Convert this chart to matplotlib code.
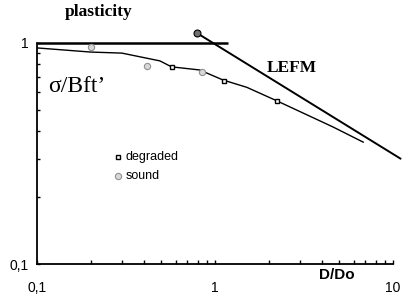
import matplotlib
matplotlib.use("Agg")
import matplotlib.pyplot as plt
from matplotlib.ticker import LogLocator, FixedLocator, NullFormatter

# ---- data ----
curve_x = [0.1, 0.2, 0.3, 0.49, 0.57, 0.82, 1.11, 1.51, 2.23, 4.6, 6.8]
curve_y = [0.95, 0.91, 0.90, 0.83, 0.78, 0.755, 0.68, 0.63, 0.547, 0.417, 0.356]
sound_x = [0.2, 0.415, 0.845]
sound_y = [0.96, 0.787, 0.739]
degraded_x = [0.573, 1.12, 2.23]
degraded_y = [0.778, 0.673, 0.547]
peak_x = [0.79]
peak_y = [1.11]
lefm_x = [0.82, 11.0]
lefm_y = [1.09, 0.30]
plast_x = [0.1, 1.18]
plast_y = [1.0, 1.0]
xticks = [0.1, 1, 10]
xticklabels = ["0,1", "1", "10"]
yticks = [0.1, 1]
yticklabels = ["0,1", "1"]

fig = plt.figure(figsize=(4.08, 3.0), dpi=100)
ax = fig.add_axes([37/408, 36/300, 356/408, 238.5/300])
ax.set_xscale("log")
ax.set_yscale("log")
ax.set_xlim(0.1, 10)
ax.set_ylim(0.1, 1.2)

ax.plot(plast_x, plast_y, color="black", lw=1.8, solid_capstyle="butt")
ax.plot(lefm_x, lefm_y, color="black", lw=1.4, clip_on=False)
ax.plot(curve_x, curve_y, color="black", lw=1.0)
ax.plot(sound_x, sound_y, ls="none", marker="o", ms=4.5, mfc="#d8d8d8", mec="#909090", mew=0.8)
ax.plot(degraded_x, degraded_y, ls="none", marker="s", ms=3.5, mfc="white", mec="black", mew=1.0)
ax.plot(peak_x, peak_y, ls="none", marker="o", ms=5, mfc="#707070", mec="black", mew=0.8, clip_on=False)

for s in ["top", "right"]:
    ax.spines[s].set_visible(False)
ax.spines["left"].set_bounds(0.1, 1)
ax.spines["left"].set_linewidth(1.3)
ax.spines["bottom"].set_linewidth(1.3)

ax.xaxis.set_major_locator(FixedLocator(xticks))
ax.set_xticklabels(xticklabels)
ax.yaxis.set_major_locator(FixedLocator(yticks))
ax.set_yticklabels(yticklabels)
ax.xaxis.set_minor_locator(LogLocator(base=10, subs=range(2, 10)))
ax.yaxis.set_minor_locator(LogLocator(base=10, subs=range(2, 10)))
ax.xaxis.set_minor_formatter(NullFormatter())
ax.yaxis.set_minor_formatter(NullFormatter())
ax.tick_params(axis="x", which="both", direction="in", length=3, width=1, pad=12, labelsize=10)
ax.tick_params(axis="y", which="both", direction="in", length=2, width=1, pad=6, labelsize=10)
for lab in ax.get_xticklabels() + ax.get_yticklabels():
    lab.set_family("Liberation Sans")

fig.text(99/408, 1 - 12/300, "plasticity", family="Liberation Serif", weight="bold",
         fontsize=12.5, ha="center", va="center")
fig.text(292/408, 1 - 68/300, "LEFM", family="Liberation Serif", weight="bold",
         fontsize=12.5, ha="center", va="center")
fig.text(48/408, 1 - 86/300, "σ/Bft’", family="Liberation Serif",
         fontsize=17, ha="left", va="center")
fig.text(337/408, 1 - 275/300, "D/Do", family="Liberation Sans", weight="bold",
         fontsize=11, ha="center", va="center")

# legend
fig.lines.append(plt.Line2D([118/408], [1 - 157/300], transform=fig.transFigure, ls="none",
                            marker="s", ms=3.5, mfc="white", mec="black", mew=1.0))
fig.lines.append(plt.Line2D([118/408], [1 - 176/300], transform=fig.transFigure, ls="none",
                            marker="o", ms=4.5, mfc="#d8d8d8", mec="#909090", mew=0.8))
fig.text(126/408, 1 - 157/300, "degraded", family="Liberation Sans", fontsize=9, ha="left", va="center")
fig.text(126/408, 1 - 176/300, "sound", family="Liberation Sans", fontsize=9, ha="left", va="center")

fig.savefig("out.png", dpi=100)
